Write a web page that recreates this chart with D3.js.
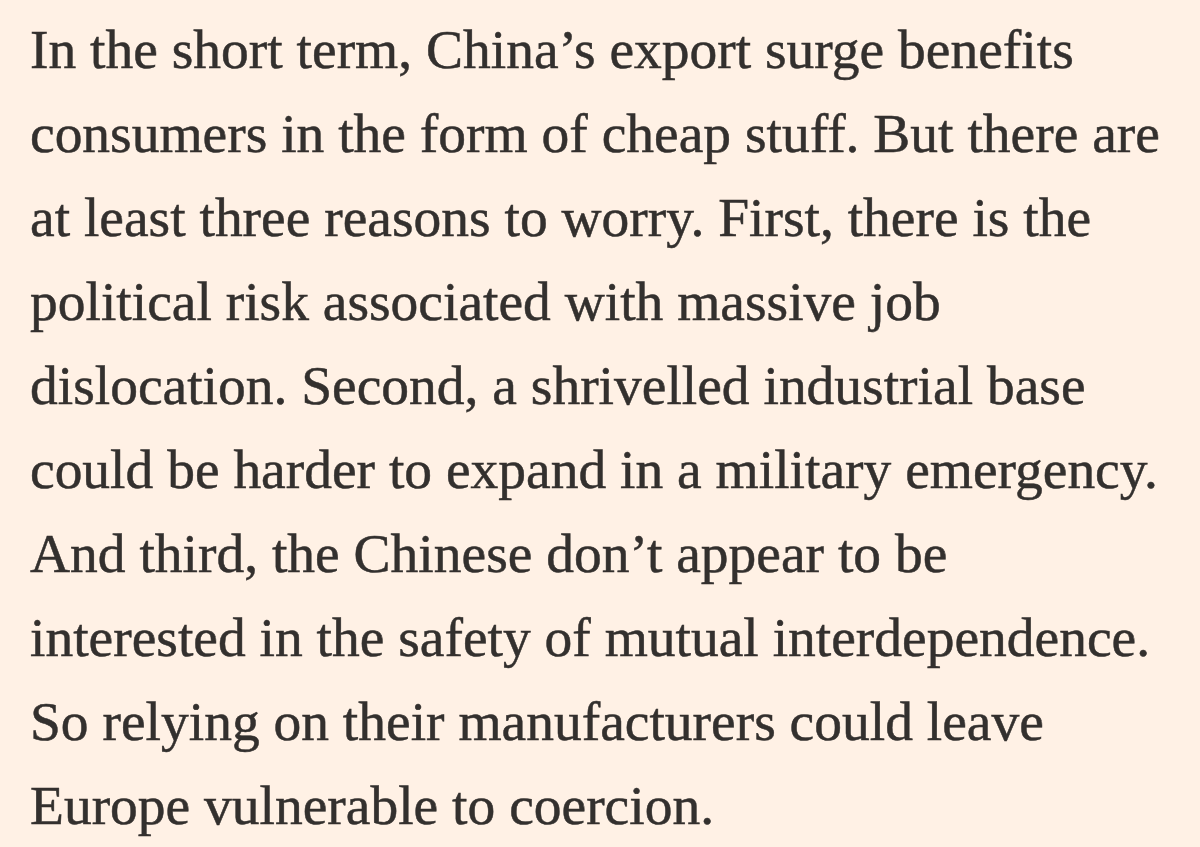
<!DOCTYPE html>
<html lang="en">
<head>
    <meta charset="UTF-8">
    <title>China's export surge</title>
    <script src="https://cdn.jsdelivr.net/npm/d3@7"></script>
    <style>
        html, body { margin: 0; padding: 0; background: #fff1e5; }
    </style>
</head>
<body>
<script>
    // the paragraph, one entry per printed line
    var lines = [
        "In the short term, China\u2019s export surge benefits",
        "consumers in the form of cheap stuff. But there are",
        "at least three reasons to worry. First, there is the",
        "political risk associated with massive job",
        "dislocation. Second, a shrivelled industrial base",
        "could be harder to expand in a military emergency.",
        "And third, the Chinese don\u2019t appear to be",
        "interested in the safety of mutual interdependence.",
        "So relying on their manufacturers could leave",
        "Europe vulnerable to coercion."
    ];

    var width = 1200, height = 847;
    var margin = {left: 30, right: 40, top: 68, bottom: 23};

    var svg = d3.select("body").append("svg")
        .attr("width", width).attr("height", height);

    svg.append("rect").attr("width", width).attr("height", height).attr("fill", "#fff1e5");

    // baseline of each line
    var yScale = d3.scalePoint()
        .domain(d3.range(lines.length))
        .range([margin.top, height - margin.bottom]);

    var font = "'Liberation Serif', 'Times New Roman', serif";

    // size the font so the longest line fills the column
    var probe = svg.append("text").attr("font-family", font).attr("font-size", 100);
    var longest = 0;
    lines.forEach(function(l) {
        probe.text(l);
        longest = Math.max(longest, probe.node().getComputedTextLength());
    });
    probe.remove();
    var fontSize = 100 * (width - margin.left - margin.right) / longest;

    svg.selectAll("text.line")
        .data(lines)
        .enter()
        .append("text")
        .attr("class", "line")
        .attr("x", margin.left)
        .attr("y", function(d, i) { return yScale(i); })
        .attr("font-family", font)
        .attr("font-size", fontSize)
        .attr("fill", "#33302e")
        .attr("stroke", "#33302e")
        .attr("stroke-width", 0.5)
        .text(function(d) { return d; });
</script>
</body>
</html>
